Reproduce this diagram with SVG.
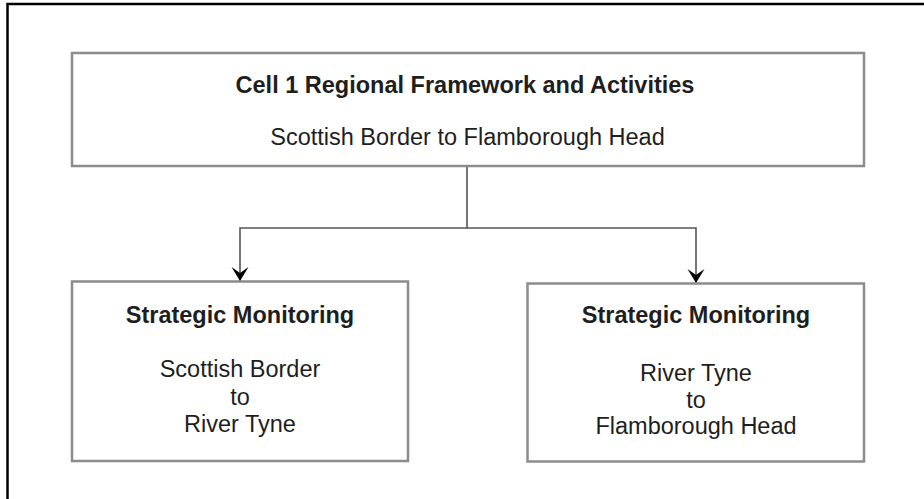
<svg xmlns="http://www.w3.org/2000/svg" width="924" height="499" viewBox="0 0 924 499">
  <style>
    .box { fill: #ffffff; stroke: #8c8c8c; stroke-width: 2.5; }
    .conn { fill: none; stroke: #555555; stroke-width: 1.6; }
    .t { font-family: "Liberation Sans", Arial, sans-serif; font-size: 23.5px; fill: #1e1e1e; text-anchor: middle; }
    .b { font-weight: bold; }
  </style>
  <defs>
    <marker id="arrow" markerUnits="userSpaceOnUse" markerWidth="16" markerHeight="20" viewBox="-15 -10 16 20" refX="0" refY="0" orient="auto">
      <path d="M0,0 L-14,-8.5 L-8,0 L-14,8.5 Z" fill="#000"/>
    </marker>
  </defs>
  <rect width="924" height="499" fill="#ffffff"/>
  <path d="M7.5,499 V4 H924" fill="none" stroke="#000" stroke-width="2.5"/>

  <g id="connectors">
    <path class="conn" d="M467,166 V228 H240 V281" marker-end="url(#arrow)"/>
    <path class="conn" d="M467,228 H696 V283" marker-end="url(#arrow)"/>
  </g>

  <g id="top">
    <rect class="box" x="72" y="53" width="792" height="113"/>
    <text class="t b" x="465" y="93">Cell 1 Regional Framework and Activities</text>
    <text class="t" x="467.5" y="145">Scottish Border to Flamborough Head</text>
  </g>

  <g id="left">
    <rect class="box" x="72" y="281.5" width="336" height="179.5"/>
    <text class="t b" x="240" y="323">Strategic Monitoring</text>
    <text class="t" x="240" y="377">Scottish Border</text>
    <text class="t" x="240" y="404.5">to</text>
    <text class="t" x="240" y="432">River Tyne</text>
  </g>

  <g id="right">
    <rect class="box" x="527.5" y="283.5" width="336.5" height="178"/>
    <text class="t b" x="696" y="323">Strategic Monitoring</text>
    <text class="t" x="696" y="380.5">River Tyne</text>
    <text class="t" x="696" y="407.5">to</text>
    <text class="t" x="696" y="434">Flamborough Head</text>
  </g>
</svg>
